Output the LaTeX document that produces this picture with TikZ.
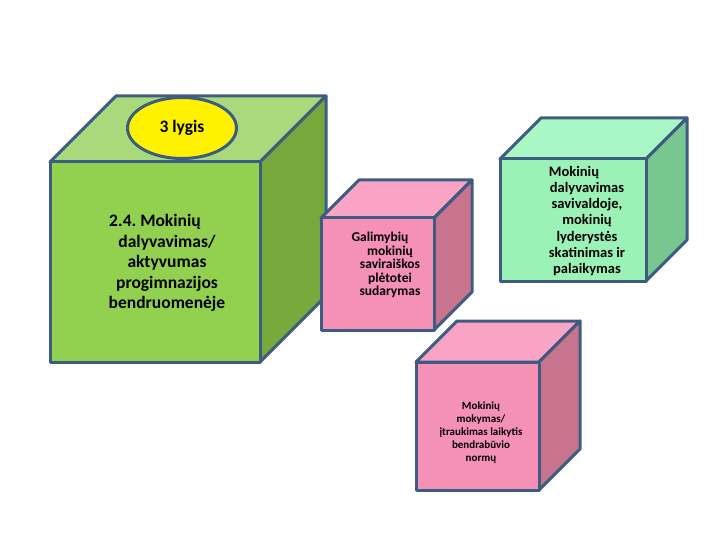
\documentclass[tikz,border=0pt]{standalone}
\usepackage{fontspec}
\setmainfont{Carlito}
\usetikzlibrary{shapes.geometric}
\frenchspacing

\definecolor{edgeblue}{HTML}{3D5C80}
\definecolor{greenfront}{HTML}{92D050}
\definecolor{greentop}{HTML}{A9D97A}
\definecolor{greenside}{HTML}{76A83C}
\definecolor{pinkfront}{HTML}{F590B6}
\definecolor{pinktop}{HTML}{F9A4C5}
\definecolor{pinkside}{HTML}{C8748F}
\definecolor{mintfront}{HTML}{9AF2B6}
\definecolor{minttop}{HTML}{A9F7C5}
\definecolor{mintside}{HTML}{79C790}

% front face from (#1,#2) to (#3,#4), depth #5, colours #6 front, #7 top, #8 side
\newcommand{\cubebox}[8]{%
  \filldraw[face, fill=#7] (#1,#2) -- (#1+#5,#2-#5) -- (#3+#5,#2-#5) -- (#3,#2) -- cycle;
  \filldraw[face, fill=#8] (#3,#2) -- (#3+#5,#2-#5) -- (#3+#5,#4-#5) -- (#3,#4) -- cycle;
  \filldraw[face, fill=#6] (#1,#2) rectangle (#3,#4);
}

\begin{document}
\begin{tikzpicture}[
    x=1pt, y=-1pt,
    face/.style={draw=edgeblue, line width=3pt, line join=round},
    lbl/.style={align=center, inner sep=0pt, font=\bfseries\fontsize{17.5}{20.5}\selectfont}
]
    \useasboundingbox (0,0) rectangle (720,540);

    % level cube
    \cubebox{50}{162}{260}{362}{66}{greenfront}{greentop}{greenside}
    \node[ellipse, draw=edgeblue, line width=3pt, fill=yellow, minimum width=109pt, minimum height=61pt, lbl] (lvl) at (182,128) {3 lygis};
    \node[lbl] (main) at (167,263) {2.4. Mokinių\hspace*{24pt}\\dalyvavimas/\\aktyvumas\\progimnazijos\\bendruomenėje};

    % sub cubes
    \cubebox{321}{218}{434}{330}{38}{pinkfront}{pinktop}{pinkside}
    \node[lbl, font=\bfseries\fontsize{13.5}{13.5}\selectfont] (expr) at (390,265) {Galimybių\hspace*{20pt}\\mokinių\\saviraiškos\\plėtotei\\sudarymas};

    \cubebox{500}{159}{646}{281}{41}{mintfront}{minttop}{mintside}
    \node[lbl, font=\bfseries\fontsize{14.5}{16.2}\selectfont] (lead) at (587,221) {Mokinių\hspace*{26pt}\\dalyvavimas\\savivaldoje,\\mokinių\\lyderystės\\skatinimas ir\\palaikymas};

    \cubebox{416}{362}{539}{490}{41}{pinkfront}{pinktop}{pinkside}
    \node[lbl, font=\bfseries\fontsize{11}{13}\selectfont] (norm) at (481,433) {Mokinių\\mokymas/\\įtraukimas laikytis\\bendrabūvio\\normų};
\end{tikzpicture}
\end{document}
